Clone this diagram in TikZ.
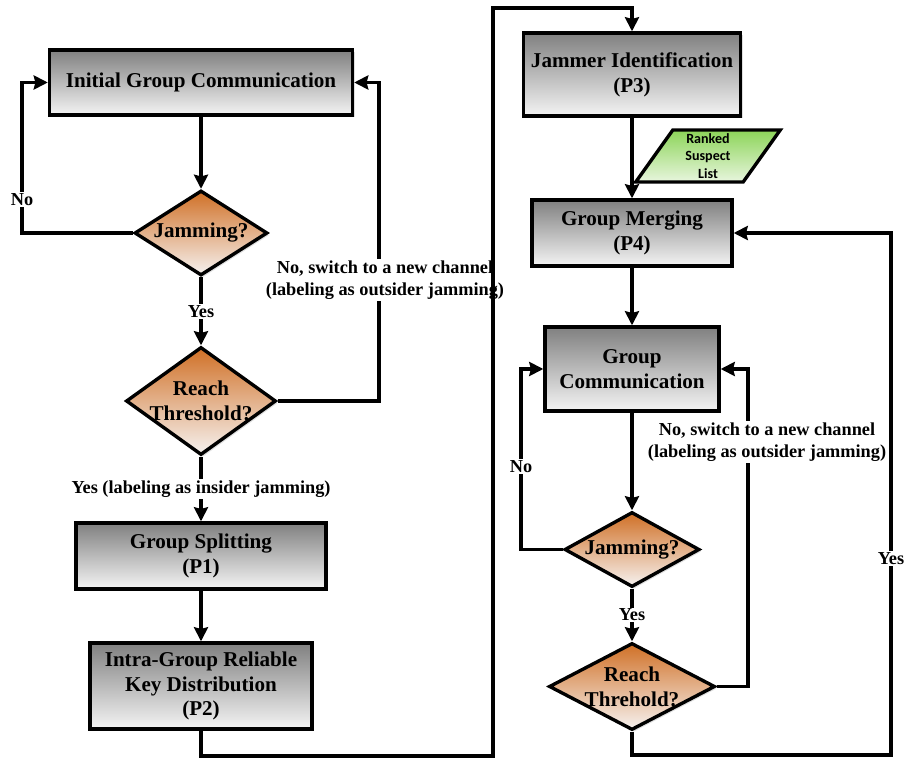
\documentclass[tikz,border=0pt]{standalone}
\usepackage{fontspec}
\setmainfont{Liberation Serif}
\newfontfamily\listfont{Carlito}
\usepackage{tikz}
\usetikzlibrary{arrows.meta,shapes.geometric,positioning,shadows}
\usepackage{xcolor}
\definecolor{boxtop}{RGB}{128,128,128}
\definecolor{boxbot}{RGB}{244,244,244}
\definecolor{dmtop}{RGB}{208,112,38}
\definecolor{dmbot}{RGB}{246,242,240}
\definecolor{lsttop}{RGB}{140,212,88}
\definecolor{lstbot}{RGB}{232,246,222}
\tikzstyle{arrow} = [line width=2.4pt,-{Stealth[length=10pt,width=10pt,inset=1.2pt]}]
\tikzstyle{process} = [rectangle, draw=black, line width=2.4pt, top color=boxtop, bottom color=boxbot, align=center, font=\fontsize{15}{17.7}\selectfont\bfseries, drop shadow={shadow xshift=1.5pt, shadow yshift=-1.5pt, opacity=0.25}]
\tikzstyle{decision} = [diamond, draw=black, line width=2.4pt, top color=dmtop, bottom color=dmbot, align=center, inner xsep=-20pt, inner ysep=-8pt, font=\fontsize{15}{17.7}\selectfont\bfseries, drop shadow={shadow xshift=1.5pt, shadow yshift=-1.5pt, opacity=0.25}]
\tikzstyle{datalist} = [trapezium, trapezium left angle=62, trapezium right angle=118, trapezium stretches=true, draw=black, line width=2.4pt, top color=lsttop, bottom color=lstbot, align=center, inner xsep=0pt, inner ysep=0pt, minimum width=3.625cm, minimum height=1.3cm, font=\listfont\fontsize{10}{12.4}\selectfont\bfseries]
\tikzstyle{lbl} = [fill=white, inner sep=1pt, align=center, font=\fontsize{13}{15.5}\selectfont\bfseries]

\begin{document}
\begin{tikzpicture}[x=0.025cm,y=-0.025cm]
\useasboundingbox (0,0) rectangle (909,761);

% Left column
\node[process, minimum width=7.575cm, minimum height=1.625cm] (init) at (201,82.5) {Initial Group Communication};
\node[decision, minimum width=3.325cm, minimum height=2.125cm] (jam1) at (201,233) {Jamming?};
\node[decision, minimum width=3.75cm, minimum height=2.7cm] (thr1) at (201,401) {Reach\\Threshold?};
\node[process, minimum width=6.25cm, minimum height=1.65cm] (split) at (201,556) {Group Splitting\\(P1)};
\node[process, minimum width=5.55cm, minimum height=2.15cm] (intra) at (201,686) {Intra-Group Reliable\\Key Distribution\\(P2)};

% Right column
\node[process, minimum width=5.425cm, minimum height=2.075cm] (jid) at (632,74.5) {Jammer Identification\\(P3)};
\node[datalist] (list) at (708,156) {Ranked\\Suspect\\List};
\node[process, minimum width=5cm, minimum height=1.65cm] (merge) at (632,233) {Group Merging\\(P4)};
\node[process, minimum width=4.35cm, minimum height=2.1cm] (gcom) at (632,369) {Group\\Communication};
\node[decision, minimum width=3.375cm, minimum height=1.875cm] (jam2) at (632,549.5) {Jamming?};
\node[decision, minimum width=4.15cm, minimum height=2.175cm] (thr2) at (632,686.5) {Reach\\Threhold?};

% Bends
\coordinate (noL) at (22,233);
\coordinate (swL) at (379,401);
\coordinate (botL) at (493,756);
\coordinate (topM) at (493,8);
\coordinate (noR) at (521,549.5);
\coordinate (swR) at (748,686.5);
\coordinate (botR) at (891,755);
\coordinate (topR) at (891,233);

% Left flow
\draw[arrow] (init) -- (jam1);
\draw[arrow] (jam1.west) -- (noL) |- node[lbl, pos=0.11] {No} (init.west);
\draw[arrow] (jam1) -- node[lbl] {Yes} (thr1);
\draw[arrow] (thr1.east) -- (swL) |- node[lbl, pos=0.19, xshift=0.15cm] {No, switch to a new channel\\(labeling as outsider jamming)} (init.east);
\draw[arrow] (thr1) -- node[lbl] {Yes (labeling as insider jamming)} (split);
\draw[arrow] (split) -- (intra);
\draw[arrow] (intra.south) |- (botL) -- (topM) -| (jid.north);

% Right flow
\draw[arrow] (jid) -- (merge);
\draw[arrow] (merge) -- (gcom);
\draw[arrow] (gcom) -- (jam2);
\draw[arrow] (jam2.west) -- (noR) |- node[lbl, pos=0.23] {No} (gcom.west);
\draw[arrow] (jam2) -- node[lbl] {Yes} (thr2);
\draw[arrow] (thr2.east) -- (swR) |- node[lbl, pos=0.385, xshift=0.475cm] {No, switch to a new channel\\(labeling as outsider jamming)} (gcom.east);
\draw[arrow] (thr2.south) |- (botR) -- node[lbl, pos=0.377] {Yes} (topR) -- (merge.east);
\end{tikzpicture}
\end{document}
